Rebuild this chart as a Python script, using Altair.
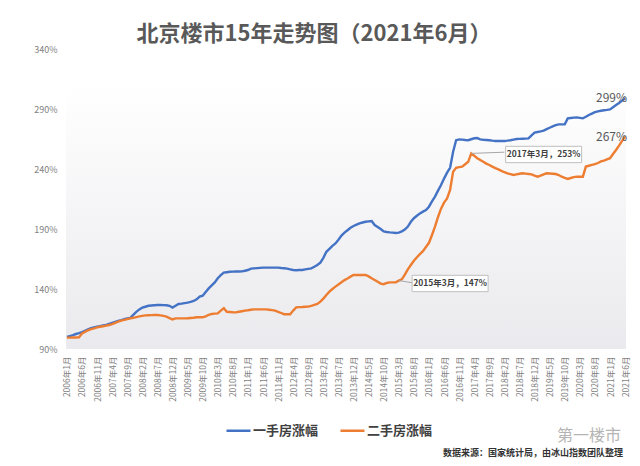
import altair as alt
import pandas as pd

# ---------------- data ----------------
months = [f"{y}年{m}月" for y in range(2006, 2022) for m in range(1, 13)][:186]

first_hand = [
    100, 100.8, 101.6, 102.5, 103.2, 104, 105.2, 106.4, 107.4, 108, 108.6, 109.1,
    109.6, 110.1, 111, 111.8, 112.6, 113.4, 114, 114.8, 115.4, 116, 118.5, 121,
    123, 124.4, 125.2, 126, 126.3, 126.5, 126.7, 126.7, 126.6, 126.5, 126, 124.5,
    126, 127.5, 127.8, 128.2, 128.6, 129.2, 130, 131.4, 133.6, 134.4, 137.5, 140.5,
    143, 145.5, 149, 151.5, 153.6, 154, 154.4, 154.5, 154.6, 154.6, 154.7, 155.2,
    155.8, 157, 157.2, 157.4, 157.6, 157.8, 157.8, 157.8, 157.8, 157.8, 157.8, 157.5,
    157.3, 157, 156.4, 155.8, 155.6, 155.8, 155.8, 156.3, 156.8, 157.2, 158.5, 160,
    162, 166, 171, 173.5, 176, 178, 181, 184.5, 187, 189, 191, 192.5,
    193.6, 194.7, 195.4, 196, 196.4, 196.7, 193.3, 191.7, 190, 188, 187.5, 187.2,
    187, 186.7, 187, 188, 189.5, 192, 196, 199, 201, 203, 204.5, 205.8,
    208.6, 213, 217, 222, 226.7, 232, 237, 241, 254.4, 264, 264.7, 264.5,
    264.2, 264, 264.8, 265.6, 265.8, 264.7, 264.4, 264.2, 264, 263.6, 263.3, 263.3,
    263.3, 263.3, 263.6, 264, 264.5, 265, 265.1, 265.2, 265.3, 265.5, 268, 270.3,
    270.8, 271.3, 272, 273.2, 274.4, 275.5, 276.5, 277.2, 277.2, 277.2, 282.2, 282.5,
    282.8, 283, 282.6, 282.2, 283.5, 285, 286.2, 287.4, 288, 288.5, 289, 289.3,
    289.7, 291.5, 293.3, 295, 297, 299,
]

second_hand = [
    99.5, 99.5, 99.6, 99.6, 99.7, 103, 104.3, 105.6, 106.6, 107.2, 108, 108.5,
    109, 109.5, 110, 110.8, 111.8, 112.8, 113.6, 114.2, 114.9, 115.5, 116, 116.6,
    117.2, 117.6, 118, 118.1, 118.2, 118.3, 118.3, 118, 117.6, 117, 115.8, 114.7,
    115.5, 115.5, 115.5, 115.5, 115.6, 115.8, 116, 116.4, 116.4, 116.4, 117.2, 118.5,
    119.2, 119.5, 119.7, 122, 124, 121, 120.8, 120.6, 120.5, 121, 121.5, 122,
    122.3, 122.7, 123, 123, 123, 123, 123, 122.7, 122.4, 122, 121, 120,
    119, 119, 119, 122, 124.7, 124.9, 125, 125.2, 125.3, 126, 126.8, 127.5,
    129.5, 132, 135, 137.8, 140, 142, 143.8, 145.6, 147.4, 148.8, 150.3, 151.7,
    151.7, 151.7, 151.7, 151.7, 150.5, 149, 147.5, 146, 144.5, 144, 145, 145.5,
    145.5, 145.5, 147, 148, 152, 156.4, 160, 163.5, 166.5, 169, 171.5, 175,
    178.5, 185, 192, 200, 207, 212, 215.5, 222.5, 237.8, 241, 241.6, 242,
    244, 246, 253, 251, 249, 247.5, 246, 244.5, 243.3, 242, 240.8, 239.7,
    238.5, 237.3, 236.4, 235.7, 235, 235.5, 236, 236.4, 236.1, 235.8, 235.5, 234.5,
    233.6, 234.5, 235.5, 236.4, 236.2, 236, 235.8, 235, 233.6, 232.6, 231.7, 232.5,
    233.2, 233.6, 233.6, 233.6, 242, 242.7, 243.4, 244, 245, 246.3, 247, 248,
    249, 252.5, 255.8, 259.5, 263.5, 267,
]

series_names = ["一手房涨幅", "二手房涨幅"]
series_colors = ["#4472C4", "#ED7D31"]

y_ticks = [90, 140, 190, 240, 290, 340]

end_labels = ["299%", "267%"]
end_values = [299, 267]

ann_texts = ["2017年3月，253%", "2015年3月，147%"]
ann_point_month = ["2017年3月", "2015年3月"]
ann_point_value = [253, 147]
ann_link_month = ["2018年2月", "2015年8月"]
ann_link_value = [254, 145]
ann_box_month = ["2019年3月", "2016年8月"]
ann_box_value = [252.1, 144.6]

title_text = "北京楼市15年走势图（2021年6月）"
source_text = "数据来源：国家统计局，由冰山指数团队整理"
watermark_text = "第一楼市"

FONT = "Noto Sans CJK SC"
W, H = 560, 300

# ---------------- tables ----------------
rows = []
for name, vals in zip(series_names, [first_hand, second_hand]):
    for mth, v in zip(months, vals):
        rows.append({"月份": mth, "涨幅": v, "系列": name})
df = pd.DataFrame(rows)

end_df = pd.DataFrame({"月份": [months[-1]] * 2, "涨幅": end_values, "t": end_labels})

link_rows = []
for k in range(len(ann_texts)):
    link_rows.append({"月份": ann_point_month[k], "涨幅": ann_point_value[k], "id": k})
    link_rows.append({"月份": ann_link_month[k], "涨幅": ann_link_value[k], "id": k})
link_df = pd.DataFrame(link_rows)

box_df = pd.DataFrame({"月份": ann_box_month, "涨幅": ann_box_value, "t": ann_texts})

x_scale = alt.Scale(domain=months, padding=0.3)
y_scale = alt.Scale(domain=[90, 340], nice=False, zero=False)

# ---------------- layers ----------------
bg = alt.Chart(pd.DataFrame({"a": [0]})).mark_rect(
    fill=alt.Gradient(
        gradient="linear",
        stops=[
            alt.GradientStop(color="#ffffff", offset=0),
            alt.GradientStop(color="#ffffff", offset=0.12),
            alt.GradientStop(color="#eaeaee", offset=1),
        ],
        x1=0, x2=0, y1=0, y2=1,
    )
).encode(x=alt.value(0), x2=alt.value(W), y=alt.value(0), y2=alt.value(H))

lines = alt.Chart(df).mark_line(strokeWidth=2.4).encode(
    x=alt.X(
        "月份:O", scale=x_scale, sort=months, title=None,
        axis=alt.Axis(
            values=months[::5], labelAngle=-90, labelFontSize=8.5, labelColor="#7f7f7f",
            labelFont=FONT, labelPadding=7, ticks=False, domain=False, grid=False,
            labelOverlap=False,
        ),
    ),
    y=alt.Y(
        "涨幅:Q", scale=y_scale, title=None,
        axis=alt.Axis(
            values=y_ticks, labelExpr="datum.value + '%'", labelFontSize=9,
            labelColor="#7f7f7f", labelFont=FONT, labelPadding=9, ticks=False,
            domain=False, grid=False,
        ),
    ),
    color=alt.Color(
        "系列:N",
        scale=alt.Scale(domain=series_names, range=series_colors),
        legend=alt.Legend(
            title=None, orient="none", legendX=159, legendY=368, direction="horizontal",
            symbolType="stroke", symbolSize=576, symbolStrokeWidth=2.5,
            labelFontSize=13, labelFontWeight="bold", labelColor="#404040",
            labelFont=FONT, labelOffset=1, columnPadding=16, padding=0,
        ),
    ),
)

ends = alt.Chart(end_df).mark_text(
    align="right", baseline="middle", dx=2, dy=0, fontSize=12, color="#595959", font=FONT
).encode(x=alt.X("月份:O", sort=months), y="涨幅:Q", text="t:N")

links = alt.Chart(link_df).mark_line(color="#a6a6a6", strokeWidth=1).encode(
    x=alt.X("月份:O", sort=months), y="涨幅:Q", detail="id:N"
)

boxes = alt.Chart(box_df).mark_point(
    shape="M-1,-0.215H1V0.215H-1Z", size=76 * 76, filled=True, fill="white",
    stroke="#bfbfbf", strokeWidth=1, opacity=1,
).encode(x=alt.X("月份:O", sort=months), y="涨幅:Q")

box_text = alt.Chart(box_df).mark_text(
    fontSize=8.5, fontWeight="bold", color="#404040", font=FONT, baseline="middle"
).encode(x=alt.X("月份:O", sort=months), y="涨幅:Q", text="t:N")

title = alt.Chart(pd.DataFrame({"t": [title_text]})).mark_text(
    fontSize=22, fontWeight="bold", color="#595959", font=FONT, baseline="middle"
).encode(x=alt.value(248), y=alt.value(-15), text="t:N")

source = alt.Chart(pd.DataFrame({"t": [source_text]})).mark_text(
    fontSize=9, fontWeight="bold", color="#333333", font=FONT, align="right", baseline="middle"
).encode(x=alt.value(557), y=alt.value(404), text="t:N")

watermark = alt.Chart(pd.DataFrame({"t": [watermark_text]})).mark_text(
    fontSize=16, color="#b5b5b5", font=FONT, align="right", baseline="middle"
).encode(x=alt.value(555), y=alt.value(387), text="t:N")

chart = alt.layer(bg, lines, links, boxes, box_text, ends, title, source, watermark).properties(
    width=W, height=H,
    padding={"left": 58, "top": 41, "right": 6, "bottom": 109},
    autosize=alt.AutoSizeParams(type="none"),
    background="white",
).configure_view(stroke=None)

chart.save("out.html", embed_options={"renderer": "svg", "actions": False})
